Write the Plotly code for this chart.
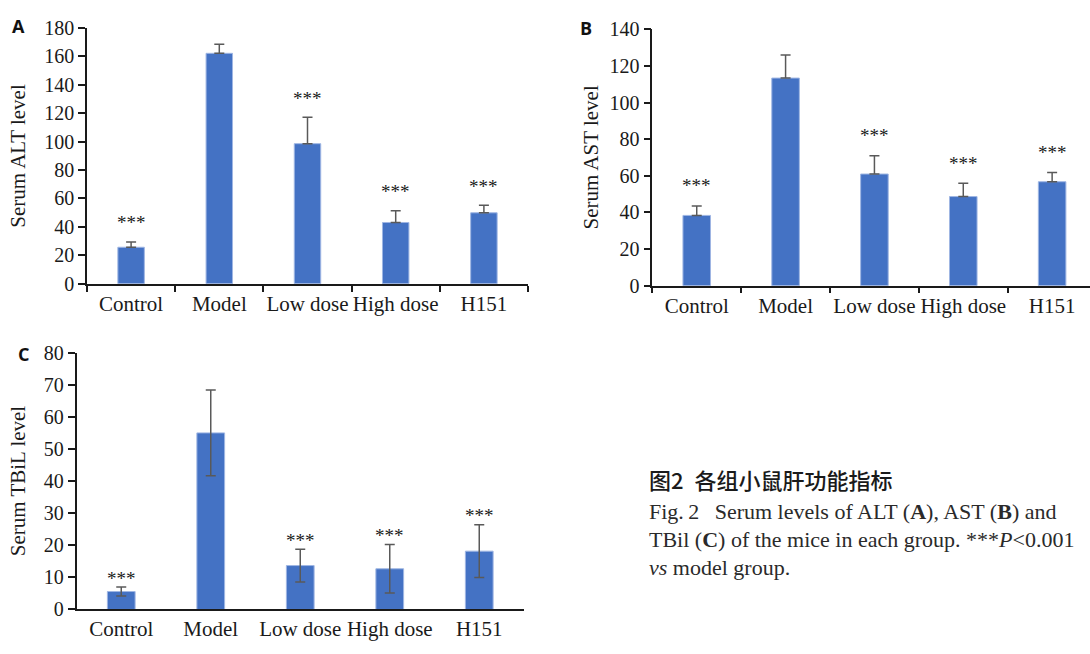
import plotly.graph_objects as go

# Groups and measured serum levels (mean, SD)
groups = ["Control", "Model", "Low dose", "High dose", "H151"]

alt_mean = [25.7, 162.0, 98.5, 43.1, 49.9]
alt_sd = [3.7, 6.3, 18.5, 8.2, 5.4]

ast_mean = [38.4, 113.4, 61.0, 48.7, 56.8]
ast_sd = [5.2, 12.6, 10.0, 7.2, 5.0]

tbil_mean = [5.6, 55.1, 13.7, 12.7, 18.2]
tbil_sd = [1.4, 13.4, 5.1, 7.6, 8.2]

signif = ["***", "", "***", "***", "***"]

W, H = 1090, 654
BAR = "#4472C4"
ERR = "#595959"
SERIF = "Liberation Serif"
INK = "#1a1a1a"


def px_x(v):
    return v / W


def px_y(v):
    return 1 - v / H


# Panel B runs past the right edge of the page, so its category range is
# trimmed to the visible part (one category is 88.85 px wide there).
b_left, b_cat = 652.3, 88.85
b_range_end = 4.5 - (b_left + 5 * b_cat - W) / b_cat

panels = [
    dict(ax="", mean=alt_mean, sd=alt_sd, both=False, ymax=180, dtick=20,
         xd=(87, 528), xr=[-0.5, 4.5], yd=(282.3, 17.3), cat_ticks=True,
         title="Serum ALT level", title_x=18, letter="A", letter_xy=(18, 16),
         star_shift=19, bw=0.30),
    dict(ax="2", mean=ast_mean, sd=ast_sd, both=False, ymax=140, dtick=20,
         xd=(b_left, W), xr=[-0.5, b_range_end], yd=(284.3, 19), cat_ticks=True,
         title="Serum AST level", title_x=591, letter="B", letter_xy=(586, 18),
         star_shift=20, bw=0.31),
    dict(ax="3", mean=tbil_mean, sd=tbil_sd, both=True, ymax=80, dtick=10,
         xd=(76.5, 524), xr=[-0.5, 4.5], yd=(619.3, 354), cat_ticks=False,
         title="Serum TBiL level", title_x=18, letter="C", letter_xy=(23.5, 355),
         star_shift=9, bw=0.31),
]

fig = go.Figure()
annotations = []

for p in panels:
    xa = "x" + p["ax"]
    ya = "y" + p["ax"]
    err = dict(type="data", array=p["sd"], color=ERR, thickness=1.5, width=5)
    if p["both"]:
        err["symmetric"] = True
    else:
        err["symmetric"] = False
        err["arrayminus"] = [0] * len(p["sd"])
    fig.add_trace(go.Bar(
        x=groups, y=p["mean"], xaxis=xa, yaxis=ya, width=p["bw"],
        marker=dict(color=BAR, line=dict(color="#9fb6e3", width=1)),
        error_y=err, showlegend=False,
    ))

    xkey = "xaxis" + p["ax"]
    ykey = "yaxis" + p["ax"]
    fig.layout[xkey] = dict(
        domain=[px_x(p["xd"][0]), px_x(p["xd"][1])], anchor=ya,
        type="category", range=p["xr"], showline=True, linecolor=INK,
        linewidth=1.5, ticks="outside" if p["cat_ticks"] else "",
        tickson="boundaries", ticklen=6, tickwidth=1.5, tickcolor=INK,
        tickangle=0, tickfont=dict(family=SERIF, size=21, color=INK),
        showgrid=False, zeroline=False, fixedrange=True,
    )
    fig.layout[ykey] = dict(
        domain=[px_y(p["yd"][0]), px_y(p["yd"][1])], anchor=xa,
        range=[0, p["ymax"]], dtick=p["dtick"], showline=True,
        linecolor=INK, linewidth=1.5, ticks="outside", ticklen=7,
        tickwidth=1.5, tickcolor=INK,
        tickfont=dict(family=SERIF, size=20, color=INK),
        showgrid=False, zeroline=False, fixedrange=True,
    )

    # significance marks above each error bar
    for g, m, s, mark in zip(groups, p["mean"], p["sd"], signif):
        if mark:
            annotations.append(dict(
                x=g, y=m + s, xref=xa, yref=ya, text=mark, showarrow=False,
                yanchor="middle", yshift=p["star_shift"],
                font=dict(family=SERIF, size=19, color=INK),
            ))

    # y-axis title
    y_mid = (p["yd"][0] + p["yd"][1]) / 2
    annotations.append(dict(
        x=px_x(p["title_x"]), y=px_y(y_mid), xref="paper", yref="paper",
        text=p["title"], textangle=-90, showarrow=False,
        xanchor="center", yanchor="middle",
        font=dict(family=SERIF, size=21, color=INK),
    ))

    # panel letter
    lx, ly = p["letter_xy"]
    annotations.append(dict(
        x=px_x(lx), y=px_y(ly), xref="paper", yref="paper", text=p["letter"],
        showarrow=False, xanchor="center", yanchor="middle",
        font=dict(family="Open Sans", size=18, color="#111", weight="bold"),
    ))

# figure caption
caption_left = 647
annotations.append(dict(
    x=px_x(caption_left), y=px_y(484), xref="paper", yref="paper",
    text="图2\u2002各组小鼠肝功能指标", showarrow=False,
    xanchor="left", yanchor="middle",
    font=dict(family="Noto Sans CJK SC", size=22, color="#1a1a1a", weight=500),
))
caption_lines = [
    ("Fig.\u20092\u2002\u2009Serum levels of ALT (<b>A</b>), AST (<b>B</b>) and", 518),
    ("TBil (<b>C</b>) of the mice in each group. ***<i>P</i>&lt;0.001", 547),
    ("<i>vs</i> model group.", 576),
]
for txt, yy in caption_lines:
    annotations.append(dict(
        x=px_x(caption_left), y=px_y(yy), xref="paper", yref="paper",
        text=txt, showarrow=False, xanchor="left", yanchor="middle",
        font=dict(family=SERIF, size=22, color="#2a2a2a"),
    ))

fig.update_layout(
    width=W, height=H, autosize=False,
    margin=dict(l=0, r=0, t=0, b=0),
    paper_bgcolor="white", plot_bgcolor="white",
    annotations=annotations,
)

fig.write_html("out.html")
